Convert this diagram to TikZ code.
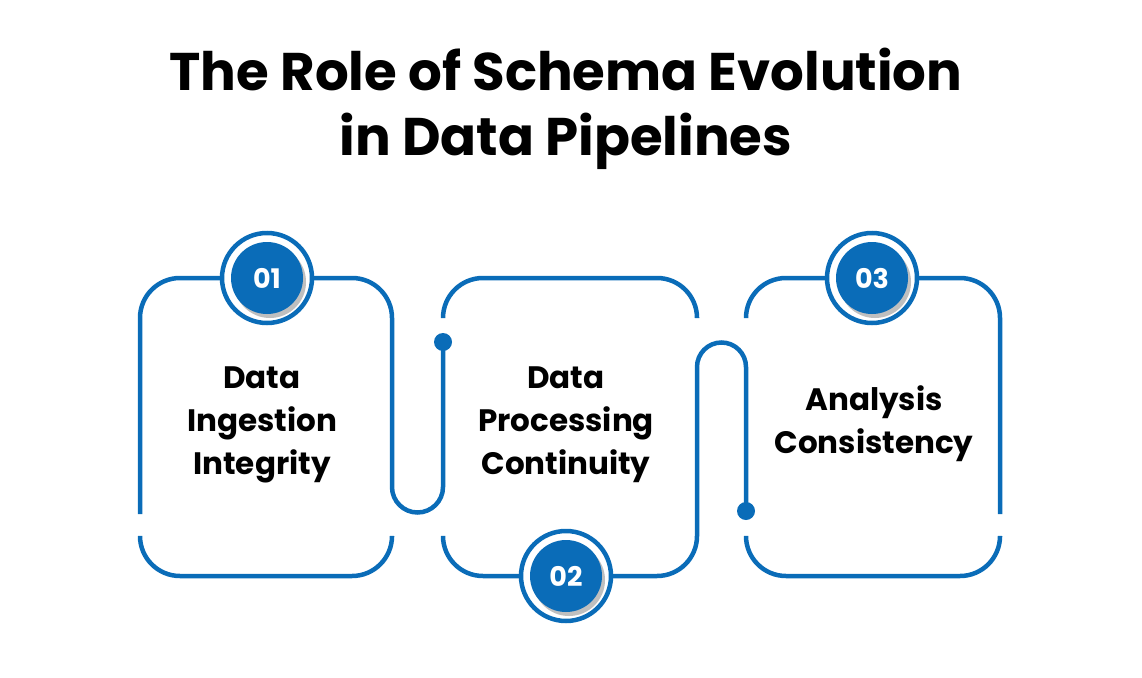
\documentclass[tikz,border=0pt]{standalone}
\usepackage{fontspec}
\setmainfont{Poppins}
\usetikzlibrary{positioning}
\definecolor{pipeblue}{HTML}{0A6CB8}
\tikzset{
  pipe/.style={line width=4.5pt, pipeblue},
  badge/.style={circle, fill=pipeblue, minimum size=72pt, text=white, font=\fontsize{27}{27}\selectfont\bfseries},
  ring/.style={circle, draw=pipeblue, line width=4.5pt, fill=white, minimum size=90pt},
  label/.style={align=center, font=\fontsize{31}{43}\selectfont\bfseries}
}
\begin{document}
\begin{tikzpicture}[x=1pt,y=-1pt]
\useasboundingbox (0,0) rectangle (1142,677);
% title
\node[font=\fontsize{53}{65}\selectfont\bfseries, align=center] (title) at (566,109)
  {The Role of Schema Evolution\\in Data Pipelines};

% box 1
\draw[pipe] (140,514) -- (140,318) arc (180:270:40) -- (352,278) arc (270:360:40)
  -- (392,487) arc (180:0:25.5) -- (443,342);
\draw[pipe] (140,537) -- (140,536) arc (180:90:40) -- (352,576) arc (90:0:40) -- (392,537);
% box 2
\draw[pipe] (443,317) -- (443,318) arc (180:270:40) -- (657,278) arc (270:360:40) -- (697,317);
\draw[pipe] (746,511) -- (746,367) arc (0:-180:24.5) -- (697,536) arc (0:90:40) -- (483,576) arc (90:180:40) -- (443,537);
% box 3
\draw[pipe] (746,317) -- (746,318) arc (180:270:40) -- (960,278) arc (270:360:40) -- (1000,514);
\draw[pipe] (1000,537) -- (1000,536) arc (0:90:40) -- (786,576) arc (90:180:40) -- (746,537);

% dots
\fill[pipeblue] (443,342) circle (9pt);
\fill[pipeblue] (746,511) circle (9pt);

% badges
\foreach \name/\x/\y/\txt in {one/267/278/01, two/566/576/02, three/872/278/03}{
  \node[ring] (ring\name) at (\x,\y) {};
  \fill[black!25] (\x+3,\y+4) circle (36pt);
  \node[badge] (badge\name) at (\x,\y) {\txt};
}

% labels
\node[label] (ingest) at (262,425) {Data\\Ingestion\\Integrity};
\node[label] (process) at (566,425) {Data\\Processing\\Continuity};
\node[label] (analysis) at (874,424) {Analysis\\Consistency};
\end{tikzpicture}
\end{document}
